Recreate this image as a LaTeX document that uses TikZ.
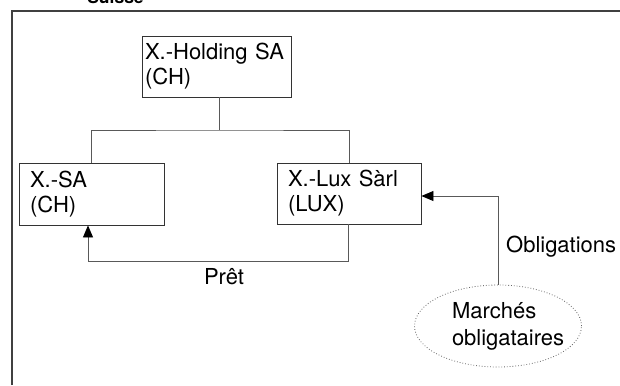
\documentclass[tikz,border=0pt]{standalone}
\usepackage{fontspec}
\setmainfont{TeX Gyre Heros}
\usetikzlibrary{arrows.meta,shapes.geometric}
\tikzset{
  entity/.style={draw=black!80, line width=0.9pt, rectangle, align=left, inner sep=0pt,
    font=\fontsize{22}{25}\selectfont},
  conn/.style={draw=black!65, line width=0.9pt},
  arr/.style={conn, -{Triangle[length=12pt,width=10pt,fill=black,color=black]}},
  lbl/.style={font=\fontsize{22}{25}\selectfont, inner sep=0pt},
  market/.style={ellipse, draw=black!60, dotted, line width=0.8pt, minimum width=167pt,
    minimum height=82pt, align=left, inner sep=0pt, font=\fontsize{22}{27}\selectfont}
}
\begin{document}
\begin{tikzpicture}[x=1pt,y=-1pt]
\useasboundingbox (0,0) rectangle (620,385);
\fill[white] (0,0) rectangle (620,385);
% country label (cut off at the top, as in the reference)
\node[font=\fontsize{17.5}{20}\selectfont\bfseries, anchor=base, inner sep=0pt] (ch) at (115.5,4) {Suisse};
% frame
\draw[draw=black!75, line width=1.1pt] (12,385) -- (12,11) -- (620,11);
% entities
\node[entity, minimum width=149pt, minimum height=61pt, text width=143pt] (hold) at (216.5,66.5) {X.-Holding SA\\(CH)};
\node[entity, minimum width=145pt, minimum height=62pt, text width=123pt] (sa) at (91.5,194) {X.-SA\\(CH)};
\node[entity, minimum width=144pt, minimum height=61pt, text width=122pt] (lux) at (349,193.5) {X.-Lux Sàrl\\(LUX)};
\node[market, text width=92pt] (mk) at (498,326) {Marchés\\obligataires};
% ownership tree
\coordinate (j) at (219,130);
\draw[conn] (hold.south -| j) -- (j);
\draw[conn] (sa.north) |- (j) -| (lux.north);
% loan
\coordinate (p) at (348,261);
\draw[arr] (lux.south -| p) -- (p) -| ([xshift=-3.5pt]sa.south);
\node[lbl] (pret) at (224,277) {Prêt};
% bonds
\coordinate (o) at (498,196);
\draw[arr] (mk.north) -- (o) -- (lux.east |- o);
\node[lbl, anchor=west] (obl) at (506,247) {Obligations};
\end{tikzpicture}
\end{document}
